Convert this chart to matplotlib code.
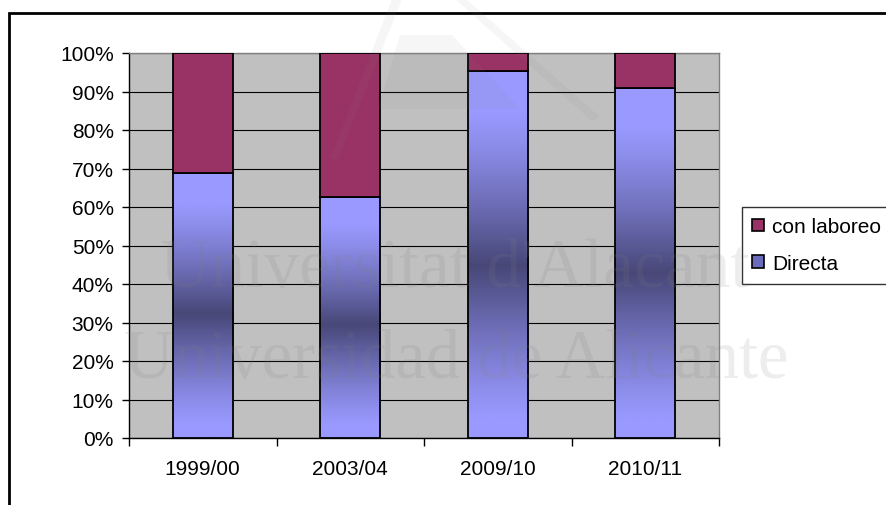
import numpy as np
import matplotlib
matplotlib.use("Agg")
import matplotlib.pyplot as plt
from matplotlib.patches import Rectangle, Patch, Polygon
from matplotlib.colors import to_rgb

plt.rcParams['font.family'] = ['Liberation Sans', 'DejaVu Sans']

# Data (share of each sowing method, %)
campaigns = ["1999/00", "2003/04", "2009/10", "2010/11"]
directa = [68.8, 62.5, 95.3, 91.0]
con_laboreo = [31.2, 37.5, 4.7, 9.0]
series_names = ["con laboreo", "Directa"]
y_ticks = [0, 10, 20, 30, 40, 50, 60, 70, 80, 90, 100]

W, H = 887, 506
fig = plt.figure(figsize=(W / 100, H / 100), dpi=100)
fig.patch.set_facecolor("white")

def px(x0, y0, x1, y1):
    """Convert a pixel box (top-left origin) to figure fractions."""
    return [x0 / W, 1 - y1 / H, (x1 - x0) / W, (y1 - y0) / H]

ax = fig.add_axes(px(129, 54, 719, 439))
ax.set_facecolor("#C0C0C0")

x = np.arange(len(campaigns))
width = 0.41
light = np.array(to_rgb("#9999FF"))
dark = np.array([0.28, 0.28, 0.47])

# Directa: vertical gradient, light at both ends and dark in the middle
n = 256
t = np.linspace(0, 1, n)
f = np.clip(1 - np.abs(t - 0.47) / 0.42, 0, 1)
f = f ** 1.2
grad = light[None, :] + (dark - light)[None, :] * f[:, None]
grad_img = grad[:, None, :]

bars_d = ax.bar(x, directa, width, facecolor="none", edgecolor="black",
                linewidth=1.3, zorder=4)
for bar in bars_d:
    x0 = bar.get_x()
    h = bar.get_height()
    im = ax.imshow(grad_img, extent=[x0, x0 + width, 0, h], origin="lower",
                   aspect="auto", zorder=3, interpolation="bilinear")
    im.set_clip_path(bar)

ax.bar(x, con_laboreo, width, bottom=directa, color="#993366",
       edgecolor="black", linewidth=1.3, zorder=4)

FS = 15
ax.set_xlim(-0.5, len(campaigns) - 0.5)
ax.set_ylim(0, 100)
ax.set_yticks(y_ticks)
ax.set_yticklabels([f"{v}%" for v in y_ticks], fontsize=FS)
ax.yaxis.grid(True, color="black", linewidth=0.8, zorder=1)
ax.set_axisbelow(True)

ax.set_xticks(x)
ax.set_xticklabels(campaigns, fontsize=FS)
ax.tick_params(axis="x", length=0, pad=15)
ax.set_xticks(np.arange(-0.5, len(campaigns)), minor=True)
ax.tick_params(axis="x", which="minor", length=6, width=1, color="black")
ax.tick_params(axis="y", length=5, width=1, color="black", pad=6)

for side in ["top", "right"]:
    ax.spines[side].set_color("#808080")
    ax.spines[side].set_linewidth(1)
for side in ["left", "bottom"]:
    ax.spines[side].set_color("black")
    ax.spines[side].set_linewidth(1)

handles = [Patch(facecolor="#993366", edgecolor="black", linewidth=1.2),
           Patch(facecolor="#6B6BBE", edgecolor="black", linewidth=1.2)]
leg = fig.legend(handles, series_names, loc="upper left",
                 bbox_to_anchor=(742 / W, 1 - 208 / H), fontsize=FS,
                 frameon=True, fancybox=False, edgecolor="black",
                 handlelength=0.55, handleheight=0.55, handletextpad=0.4,
                 borderpad=0.5, labelspacing=0.85, borderaxespad=0)
leg.get_frame().set_linewidth(1)

# Chart frame
fig.patches.append(Rectangle((9 / W, -0.1), 1.1, 1 - 14 / H + 0.1,
                             transform=fig.transFigure, fill=False,
                             edgecolor="black", linewidth=2, zorder=0))

# Faint university watermark
wm = dict(family="Liberation Serif", color="#808080", alpha=0.14,
          zorder=20, va="baseline", ha="left")
fig.text(160 / W, 1 - 287 / H, "Universitat d'Alacant", fontsize=50, **wm)
fig.text(124 / W, 1 - 378 / H, "Universidad de Alicante", fontsize=49.5, **wm)

logo = dict(transform=fig.transFigure, facecolor="#808080", alpha=0.07,
            edgecolor="none", zorder=20)
def poly(points):
    return Polygon([(a / W, 1 - b / H) for a, b in points], **logo)
fig.patches.append(poly([(392, 0), (402, 0), (338, 160), (330, 160)]))
fig.patches.append(poly([(455, 0), (466, 0), (600, 118), (592, 122)]))
fig.patches.append(poly([(400, 36), (452, 36), (520, 110), (378, 110)]))

fig.savefig("out.png", dpi=100)
